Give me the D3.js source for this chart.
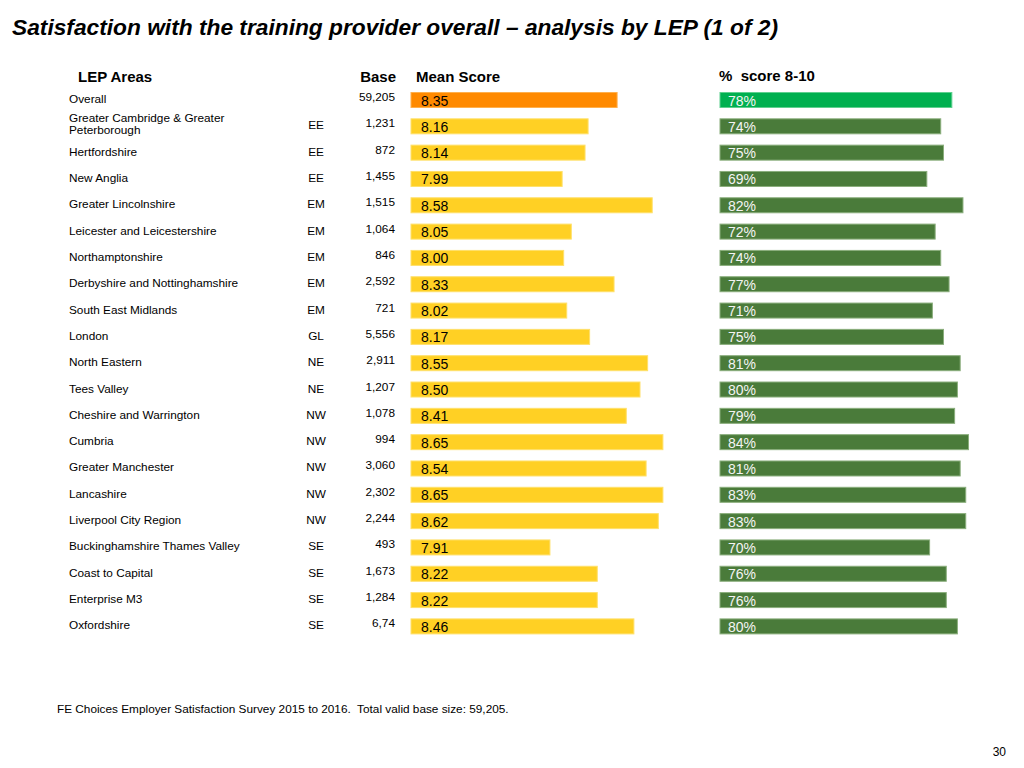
<!DOCTYPE html>
<html>
<head>
<meta charset="utf-8">
<script src="https://cdn.jsdelivr.net/npm/d3@7"></script>
<style>
  html, body { margin: 0; padding: 0; background: #fff; }
  svg { display: block; }
  text { font-family: "Liberation Sans", Arial, Helvetica, sans-serif; white-space: pre; }
</style>
</head>
<body>
<svg id="chart" width="1024" height="768"></svg>
<script>
// ---------- data ----------
const areas = ["Overall", "Greater Cambridge & Greater Peterborough", "Hertfordshire", "New Anglia",
  "Greater Lincolnshire", "Leicester and Leicestershire", "Northamptonshire",
  "Derbyshire and Nottinghamshire", "South East Midlands", "London", "North Eastern",
  "Tees Valley", "Cheshire and Warrington", "Cumbria", "Greater Manchester", "Lancashire",
  "Liverpool City Region", "Buckinghamshire Thames Valley", "Coast to Capital",
  "Enterprise M3", "Oxfordshire"];
const regions = ["", "EE", "EE", "EE", "EM", "EM", "EM", "EM", "EM", "GL", "NE", "NE",
  "NW", "NW", "NW", "NW", "NW", "SE", "SE", "SE", "SE"];
const bases = ["59,205", "1,231", "872", "1,455", "1,515", "1,064", "846", "2,592", "721",
  "5,556", "2,911", "1,207", "1,078", "994", "3,060", "2,302", "2,244", "493", "1,673",
  "1,284", "6,74"];
const meanScores = [8.35, 8.16, 8.14, 7.99, 8.58, 8.05, 8.00, 8.33, 8.02, 8.17, 8.55, 8.50,
  8.41, 8.65, 8.54, 8.65, 8.62, 7.91, 8.22, 8.22, 8.46];
const pctScores = [78, 74, 75, 69, 82, 72, 74, 77, 71, 75, 81, 80, 79, 84, 81, 83, 83, 70,
  76, 76, 80];
const headers = ["LEP Areas", "Base", "Mean Score", "%  score 8-10"];
const titleText = "Satisfaction with the training provider overall \u2013 analysis by LEP (1 of 2)";
const footnote = "FE Choices Employer Satisfaction Survey 2015 to 2016.  Total valid base size: 59,205.";
const pageNumber = "30";

// ---------- layout ----------
const svg = d3.select("#chart");
const idx = d3.range(areas.length);

const y = d3.scaleBand().domain(idx).range([86.84, 639.56])
  .paddingInner(0.43).paddingOuter(0.215);
const yc = i => y(i) + y.bandwidth() / 2;

const xMean = d3.scaleLinear().domain([7, 10]).range([411, 869]);
const pctStart = 720;
const xPct = d3.scaleLinear().domain([0, 100]).range([735, 1013]);

const small = "11.8px";

// title
svg.append("text")
  .attr("x", 12).attr("y", 35)
  .style("font-family", "'Liberation Sans Narrow', 'Liberation Sans', Arial, sans-serif")
  .style("font-size", "22px").style("font-weight", "bold").style("font-style", "italic")
  .attr("fill", "#000")
  .attr("textLength", 766).attr("lengthAdjust", "spacingAndGlyphs")
  .text(titleText);

// headers
const hdr = svg.append("g").style("font-size", "15px").style("font-weight", "bold").attr("fill", "#000");
hdr.append("text").attr("x", 78).attr("y", 82).text(headers[0]);
hdr.append("text").attr("x", 396).attr("y", 82).attr("text-anchor", "end").text(headers[1]);
hdr.append("text").attr("x", 416).attr("y", 82).text(headers[2]);
hdr.append("text").attr("x", 719).attr("y", 81).text(headers[3]);

// area labels
const lab = svg.append("g").style("font-size", small).attr("fill", "#000");
idx.forEach(i => {
  const name = areas[i];
  if (name === "Greater Cambridge & Greater Peterborough") {
    const t = lab.append("text").attr("x", 69).attr("y", yc(i) - 4.5);
    t.append("tspan").attr("x", 69).text("Greater Cambridge & Greater");
    t.append("tspan").attr("x", 69).attr("dy", 12.5).text("Peterborough");
  } else {
    lab.append("text").attr("x", 69).attr("y", yc(i) + 3).text(name);
  }
});

// region codes
const reg = svg.append("g").style("font-size", small).attr("fill", "#000").attr("text-anchor", "middle");
idx.forEach(i => {
  if (regions[i]) reg.append("text").attr("x", 316).attr("y", yc(i) + 3).text(regions[i]);
});

// bases
const bs = svg.append("g").style("font-size", small).attr("fill", "#000").attr("text-anchor", "end");
idx.forEach(i => {
  bs.append("text").attr("x", 395).attr("y", yc(i) + 1).text(bases[i]);
});

// mean bars
svg.append("g").selectAll("rect").data(idx).join("rect")
  .attr("x", xMean(7))
  .attr("y", i => y(i))
  .attr("width", i => xMean(meanScores[i]) - xMean(7))
  .attr("height", y.bandwidth())
  .attr("fill", i => i === 0 ? "#FF8A00" : "#FFD024")
  .attr("stroke", i => i === 0 ? "#FFB04D" : "#FFE06A")
  .attr("stroke-width", 1);

svg.append("g").style("font-size", "14px").attr("fill", "#000")
  .selectAll("text").data(idx).join("text")
  .attr("x", 421).attr("y", i => yc(i) + 5.5)
  .text(i => meanScores[i].toFixed(2));

// pct bars
svg.append("g").selectAll("rect").data(idx).join("rect")
  .attr("x", pctStart)
  .attr("y", i => y(i))
  .attr("width", i => xPct(pctScores[i]) - pctStart)
  .attr("height", y.bandwidth())
  .attr("fill", i => i === 0 ? "#00B050" : "#4A7B3A")
  .attr("stroke", i => i === 0 ? "#5FD08F" : "#8AAE7C")
  .attr("stroke-width", 1);

svg.append("g").style("font-size", "14px").attr("fill", "#F4F4F4")
  .selectAll("text").data(idx).join("text")
  .attr("x", 728).attr("y", i => yc(i) + 5.5)
  .text(i => pctScores[i] + "%");

// footnote & page number
svg.append("text").attr("x", 57).attr("y", 713).style("font-size", small).attr("fill", "#000").text(footnote);
svg.append("text").attr("x", 1006).attr("y", 756).attr("text-anchor", "end").style("font-size", "12px").attr("fill", "#000").text(pageNumber);
</script>
</body>
</html>
